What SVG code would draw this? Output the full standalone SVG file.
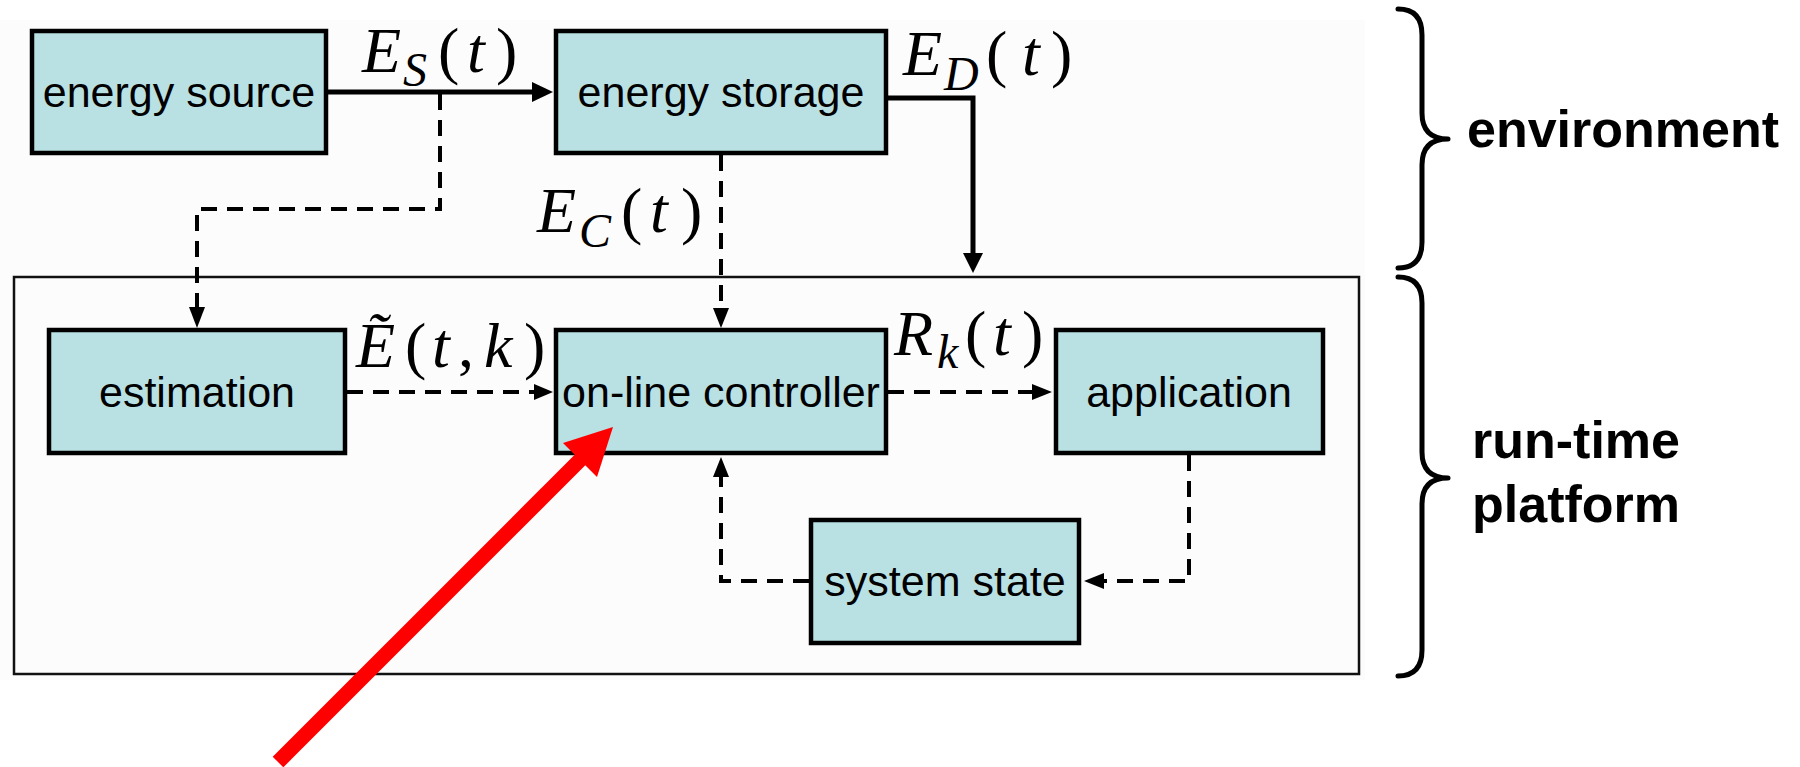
<svg xmlns="http://www.w3.org/2000/svg" width="1800" height="767" viewBox="0 0 1800 767">
  <style>
    .box { fill: #b9e0e3; stroke: #000; stroke-width: 4.5; }
    .lbl { font-family: "Liberation Sans", Arial, sans-serif; font-size: 43px; fill: #000; text-anchor: middle; }
    .side { font-family: "Liberation Sans", Arial, sans-serif; font-size: 52px; font-weight: bold; fill: #000; }
    .math { font-family: "Liberation Serif", "Times New Roman", serif; font-size: 64px; fill: #000; }
    .it { font-style: italic; }
    .sub { font-size: 48px; font-style: italic; }
    .solid { fill: none; stroke: #000; stroke-width: 5; }
    .dash { fill: none; stroke: #000; stroke-width: 4; stroke-dasharray: 16 10; }
    .head { fill: #000; }
    .brace { fill: none; stroke: #000; stroke-width: 5; stroke-linecap: round; stroke-linejoin: round; }
  </style>

  <rect x="0" y="0" width="1800" height="767" fill="#ffffff"/>
  <rect x="0" y="20" width="1365" height="660" fill="#fcfcfc"/>

  <!-- run-time platform frame -->
  <rect id="platform-frame" x="14" y="277" width="1345" height="397" fill="none" stroke="#111" stroke-width="2.5"/>

  <g id="energy-source">
    <rect class="box" x="32" y="31" width="294" height="122"/>
    <text class="lbl" x="179" y="107">energy source</text>
  </g>
  <g id="energy-storage">
    <rect class="box" x="556" y="31" width="330" height="122"/>
    <text class="lbl" x="721" y="107">energy storage</text>
  </g>
  <g id="estimation">
    <rect class="box" x="49" y="330" width="296" height="123"/>
    <text class="lbl" x="197" y="407">estimation</text>
  </g>
  <g id="controller">
    <rect class="box" x="556" y="330" width="330" height="123"/>
    <text class="lbl" x="721" y="407">on-line controller</text>
  </g>
  <g id="application">
    <rect class="box" x="1056" y="330" width="267" height="123"/>
    <text class="lbl" x="1189" y="407">application</text>
  </g>
  <g id="system-state">
    <rect class="box" x="811" y="520" width="268" height="123"/>
    <text class="lbl" x="945" y="596">system state</text>
  </g>

  <g id="connectors">
    <!-- source to storage -->
    <line class="solid" x1="328" y1="92" x2="533" y2="92"/>
    <polygon class="head" points="532,82 553,92 532,102"/>
    <!-- tap to estimation -->
    <polyline class="dash" points="440,94 440,209 197,209 197,308"/>
    <polygon class="head" points="189,307 197,328 205,307"/>
    <!-- storage to platform -->
    <polyline class="solid" points="888,98 973,98 973,254"/>
    <polygon class="head" points="963,253 973,273 983,253"/>
    <!-- storage to controller -->
    <line class="dash" x1="721" y1="155" x2="721" y2="309"/>
    <polygon class="head" points="713,308 721,328 729,308"/>
    <!-- estimation to controller -->
    <line class="dash" x1="347" y1="392" x2="535" y2="392"/>
    <polygon class="head" points="534,384 553,392 534,400"/>
    <!-- controller to application -->
    <line class="dash" x1="888" y1="392" x2="1033" y2="392"/>
    <polygon class="head" points="1032,384 1052,392 1032,400"/>
    <!-- application to system state -->
    <polyline class="dash" points="1189,455 1189,581 1103,581"/>
    <polygon class="head" points="1104,573 1084,581 1104,589"/>
    <!-- system state to controller -->
    <polyline class="dash" points="809,581 721,581 721,476"/>
    <polygon class="head" points="713,477 721,457 729,477"/>
  </g>

  <g id="signal-labels">
    <text class="math"><tspan class="it" x="362" y="72">E</tspan><tspan class="sub" x="403" y="86">S</tspan><tspan x="438" y="72">(</tspan><tspan class="it" x="467" y="72">t</tspan><tspan x="496" y="72">)</tspan></text>
    <text class="math"><tspan class="it" x="903" y="75">E</tspan><tspan class="sub" x="944" y="90">D</tspan><tspan x="986" y="75">(</tspan><tspan class="it" x="1022" y="75">t</tspan><tspan x="1051" y="75">)</tspan></text>
    <text class="math"><tspan class="it" x="537" y="232">E</tspan><tspan class="sub" x="579" y="247">C</tspan><tspan x="621" y="232">(</tspan><tspan class="it" x="650" y="232">t</tspan><tspan x="681" y="232">)</tspan></text>
    <text class="math"><tspan class="it" x="356" y="367">Ẽ</tspan><tspan x="405" y="367">(</tspan><tspan class="it" x="432" y="367">t</tspan><tspan x="458" y="367">,</tspan><tspan class="it" x="484" y="367">k</tspan><tspan x="524" y="367">)</tspan></text>
    <text class="math"><tspan class="it" x="894" y="355">R</tspan><tspan class="sub" x="937" y="368">k</tspan><tspan x="965" y="355">(</tspan><tspan class="it" x="993" y="355">t</tspan><tspan x="1022" y="355">)</tspan></text>
  </g>

  <g id="environment-brace">
    <path class="brace" d="M1398,9 Q1422,9 1422,35 L1422,113 Q1422,139 1448,139 Q1422,139 1422,165 L1422,242 Q1422,268 1398,268"/>
    <text class="side" x="1467" y="147">environment</text>
  </g>
  <g id="platform-brace">
    <path class="brace" d="M1398,277 Q1422,277 1422,303 L1422,452 Q1422,478 1448,478 Q1422,478 1422,504 L1422,650 Q1422,676 1398,676"/>
    <text class="side" x="1472" y="458">run-time</text>
    <text class="side" x="1472" y="522">platform</text>
  </g>

  <g id="pointer">
    <line x1="278" y1="762" x2="586" y2="454" stroke="#ff0000" stroke-width="15"/>
    <polygon points="613,427 563,443 597,477" fill="#ff0000"/>
  </g>
</svg>
